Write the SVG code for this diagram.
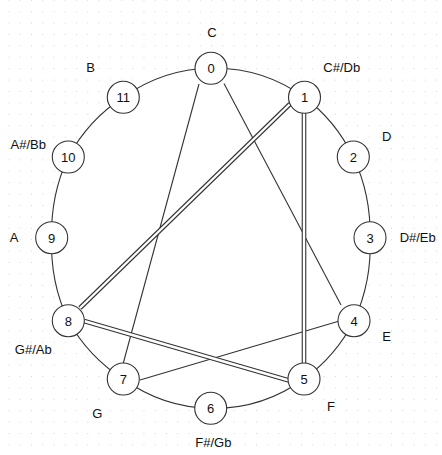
<svg xmlns="http://www.w3.org/2000/svg" width="442" height="455" viewBox="0 0 442 455">
  <defs>
    <pattern id="grid" patternUnits="userSpaceOnUse" x="8.5" y="11.2" width="11.25" height="11.4">
      <rect x="0" y="0" width="1" height="1" fill="#d4d4d4"/>
    </pattern>
    <style>
      .node circle { fill: #fff; stroke: #333; stroke-width: 1.1; }
      .node text, .label { font-family: "Liberation Sans", Arial, sans-serif; font-size: 13px; fill: #111; text-anchor: middle; dominant-baseline: central; }
      .arc { fill: none; stroke: #333; stroke-width: 1.1; }
      .single { stroke: #333; stroke-width: 1.1; fill: none; }
      .dbl-outer { stroke: #333; stroke-width: 4.6; fill: none; }
      .dbl-inner { stroke: #fff; stroke-width: 2.4; fill: none; }
    </style>
  </defs>

  <!-- background grid -->
  <rect width="442" height="455" fill="#fff"/>
  <rect width="442" height="455" fill="url(#grid)"/>

  <!-- white interior of the ring -->
  <path fill="#fff" d="M211,68.3 A160,170 0 0 1 304.5,97.3 A160,170 0 0 1 353.3,157 A160,170 0 0 1 370,237.7 A160,170 0 0 1 354,320.7 A160,170 0 0 1 304,379 A160,170 0 0 1 210.7,408.3 A160,170 0 0 1 123.3,379 A160,170 0 0 1 68.3,320.7 A160,170 0 0 1 51.7,237.7 A160,170 0 0 1 68.3,157 A160,170 0 0 1 123.3,97.3 A160,170 0 0 1 211,68.3 Z"/>

  <g id="connectors">
    <!-- ring arcs between neighbouring pitch classes -->
    <path class="arc" d="M211,68.3 A160,170 0 0 1 304.5,97.3"/>
    <path class="arc" d="M304.5,97.3 A160,170 0 0 1 353.3,157"/>
    <path class="arc" d="M353.3,157 A160,170 0 0 1 370,237.7"/>
    <path class="arc" d="M370,237.7 A160,170 0 0 1 354,320.7"/>
    <path class="arc" d="M354,320.7 A160,170 0 0 1 304,379"/>
    <path class="arc" d="M304,379 A160,170 0 0 1 210.7,408.3"/>
    <path class="arc" d="M210.7,408.3 A160,170 0 0 1 123.3,379"/>
    <path class="arc" d="M123.3,379 A160,170 0 0 1 68.3,320.7"/>
    <path class="arc" d="M68.3,320.7 A160,170 0 0 1 51.7,237.7"/>
    <path class="arc" d="M51.7,237.7 A160,170 0 0 1 68.3,157"/>
    <path class="arc" d="M68.3,157 A160,170 0 0 1 123.3,97.3"/>
    <path class="arc" d="M123.3,97.3 A160,170 0 0 1 211,68.3"/>

    <!-- single chords: 0-7, 0-4, 4-7 -->
    <line class="single" x1="199" y1="84" x2="123.3" y2="363"/>
    <line class="single" x1="224" y1="83.5" x2="341" y2="305"/>
    <line class="single" x1="338.5" y1="321.3" x2="140" y2="380"/>

    <!-- double chords: 1-8, 1-5, 8-5 -->
    <line class="dbl-outer" x1="290" y1="104" x2="80" y2="308"/>
    <line class="dbl-inner" x1="290" y1="104" x2="80" y2="308"/>
    <line class="dbl-outer" x1="304" y1="112" x2="304" y2="364"/>
    <line class="dbl-inner" x1="304" y1="112" x2="304" y2="364"/>
    <line class="dbl-outer" x1="84" y1="321" x2="289" y2="380.5"/>
    <line class="dbl-inner" x1="84" y1="321" x2="289" y2="380.5"/>
  </g>

  <g id="node-0" class="node"><circle cx="211" cy="68.3" r="16"/><text x="211" y="68.8">0</text></g>
  <g id="node-1" class="node"><circle cx="304.5" cy="97.3" r="16"/><text x="304.5" y="97.8">1</text></g>
  <g id="node-2" class="node"><circle cx="353.3" cy="157" r="16"/><text x="353.3" y="157.5">2</text></g>
  <g id="node-3" class="node"><circle cx="370" cy="237.7" r="16"/><text x="370" y="238.2">3</text></g>
  <g id="node-4" class="node"><circle cx="354" cy="320.7" r="16"/><text x="354" y="321.2">4</text></g>
  <g id="node-5" class="node"><circle cx="304" cy="379" r="16"/><text x="304" y="379.5">5</text></g>
  <g id="node-6" class="node"><circle cx="210.7" cy="408.3" r="16"/><text x="210.7" y="408.8">6</text></g>
  <g id="node-7" class="node"><circle cx="123.3" cy="379" r="16"/><text x="123.3" y="379.5">7</text></g>
  <g id="node-8" class="node"><circle cx="68.3" cy="320.7" r="16"/><text x="68.3" y="321.2">8</text></g>
  <g id="node-9" class="node"><circle cx="51.7" cy="237.7" r="16"/><text x="51.7" y="238.2">9</text></g>
  <g id="node-10" class="node"><circle cx="68.3" cy="157" r="16"/><text x="68.3" y="157.5">10</text></g>
  <g id="node-11" class="node"><circle cx="123.3" cy="97.3" r="16"/><text x="123.3" y="97.8">11</text></g>

  <g id="note-names">
    <text class="label" x="212" y="32.3">C</text>
    <text class="label" x="341.7" y="67.3">C#/Db</text>
    <text class="label" x="386.7" y="136.7">D</text>
    <text class="label" x="417.7" y="237.7">D#/Eb</text>
    <text class="label" x="386.7" y="336.7">E</text>
    <text class="label" x="331" y="406.7">F</text>
    <text class="label" x="213.3" y="442.7">F#/Gb</text>
    <text class="label" x="97.3" y="413.3">G</text>
    <text class="label" x="33.3" y="349">G#/Ab</text>
    <text class="label" x="14" y="237.7">A</text>
    <text class="label" x="28.3" y="144">A#/Bb</text>
    <text class="label" x="90.7" y="67.3">B</text>
  </g>
</svg>
